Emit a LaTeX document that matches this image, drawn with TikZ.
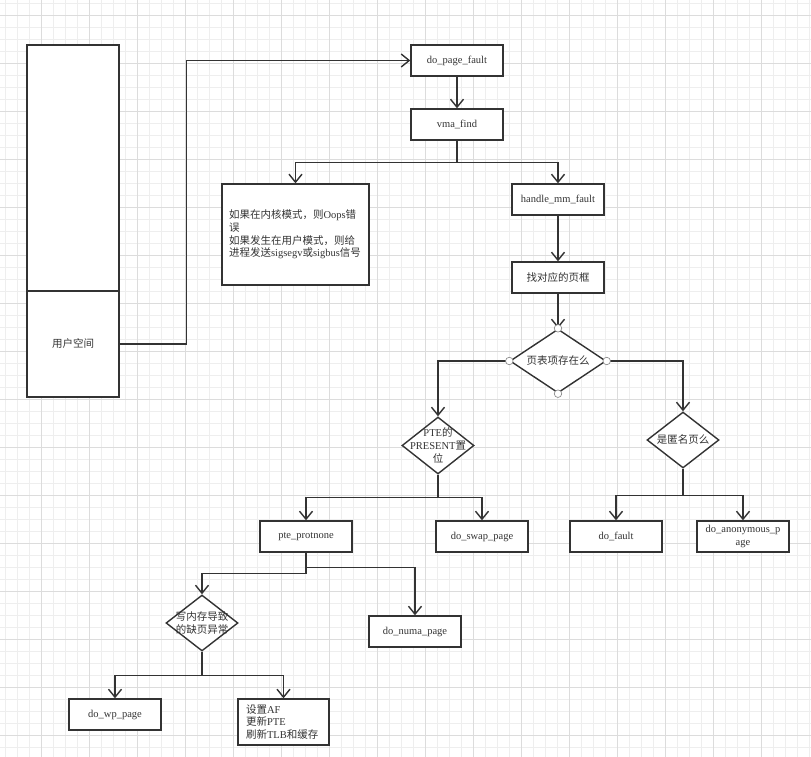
\documentclass[tikz,border=0pt]{standalone}
\usepackage{fontspec}
\setmainfont{Liberation Serif}
\newfontfamily\cjk{Noto Sans CJK SC}
\newcommand\zh[1]{{\cjk #1}}
\usetikzlibrary{shapes.geometric,arrows.meta}
\definecolor{linec}{HTML}{333333}
\definecolor{gridminor}{HTML}{EEEEEE}
\definecolor{gridmajor}{HTML}{DCDCDC}
\begin{document}
\begin{tikzpicture}[x=1pt,y=-1pt,
  txt/.style={text=linec,font=\fontsize{10.5}{12.8}\selectfont},
  box/.style={txt,draw=linec,line width=1.4pt,fill=white,minimum width=92pt,minimum height=31pt,inner sep=0pt,align=center},
  dia/.style={diamond,draw=linec,line width=1.4pt,fill=white,inner sep=0pt},
  lbl/.style={txt,align=center,inner sep=0pt},
  arr/.style={draw=linec,line width=1.4pt,-{Straight Barb[length=8pt,width=13pt,line width=1.4pt]}},
  port/.style={circle,draw=gray,fill=white,minimum size=7.5pt,inner sep=0pt,line width=0.6pt}
]
\useasboundingbox (0,0) rectangle (811,757);
\fill[white] (0,0) rectangle (811,757);
% grid
\foreach \i in {0,...,67} \draw[gridminor,line width=0.6pt] (5+12*\i,0) -- (5+12*\i,757);
\foreach \i in {0,...,63} \draw[gridminor,line width=0.6pt] (0,3+12*\i) -- (811,3+12*\i);
\foreach \i in {0,...,16} \draw[gridmajor,line width=0.7pt] (41+48*\i-48,0) -- (41+48*\i-48,757);
\foreach \i in {0,...,16} \draw[gridmajor,line width=0.7pt] (0,15+48*\i) -- (811,15+48*\i);

% left column
\node[box,minimum width=92pt,minimum height=246pt] (kern) at (73,168) {};
\node[box,minimum width=92pt,minimum height=106pt] (user) at (73,344) {\zh{用户空间}};

% main chain
\node[box] (dpf) at (457,60.5) {do\_page\_fault};
\node[box] (vma) at (457,124.5) {vma\_find};
\node[box,minimum width=147pt,minimum height=101pt,text width=133pt,align=left] (oops) at (295.5,234.5)
  {\zh{如果在内核模式，则}Oops\zh{错}\\\zh{误}\\\zh{如果发生在用户模式，则给}\\\zh{进程发送}sigsegv\zh{或}sigbus\zh{信号}};
\node[box] (hmf) at (558,199.5) {handle\_mm\_fault};
\node[box] (frame) at (558,277.5) {\zh{找对应的页框}};

\node[dia,minimum width=96pt,minimum height=64pt] (d1) at (558,361) {};
\node[lbl] (d1t) at (d1) {\zh{页表项存在么}};

\node[dia,minimum width=72pt,minimum height=57pt] (d2) at (438,445.5) {};
\node[lbl] (d2t) at (d2) {PTE\zh{的}\\PRESENT\zh{置}\\\zh{位}};

\node[dia,minimum width=72pt,minimum height=56pt] (d3) at (683,440) {};
\node[lbl] (d3t) at (d3) {\zh{是匿名页么}};

\node[box] (prot) at (306,536.5) {pte\_protnone};
\node[box] (swap) at (482,536.5) {do\_swap\_page};
\node[box] (fault) at (616,536.5) {do\_fault};
\node[box] (anon) at (743,536.5) {do\_anonymous\_p\\age};

\node[dia,minimum width=72pt,minimum height=56pt] (d4) at (202,623) {};
\node[lbl] (d4t) at (d4) {\zh{写内存导致}\\\zh{的缺页异常}};

\node[box] (numa) at (415,631.5) {do\_numa\_page};
\node[box] (wp) at (115,714.5) {do\_wp\_page};
\node[box,minimum width=91pt,minimum height=46pt,text width=75pt,align=left] (setaf) at (283.5,722)
  {\zh{设置}AF\\\zh{更新}PTE\\\zh{刷新}TLB\zh{和缓存}};

% connectors
\draw[arr] (user.east) -- ++(67,0) |- (dpf.west);
\draw[arr] (dpf) -- (vma);
\draw[arr] (vma.south) -- ++(0,22) -| (oops.north);
\draw[arr] (vma.south) -- ++(0,22) -| (hmf.north);
\draw[arr] (hmf) -- (frame);
\draw[arr] (frame) -- (d1.north);
\draw[arr] (d1.west) -| (d2.north);
\draw[arr] (d1.east) -| (d3.north);
\draw[arr] (d2.south) -- ++(0,23) -| (prot.north);
\draw[arr] (d2.south) -- ++(0,23) -| (swap.north);
\draw[arr] (d3.south) -- ++(0,27) -| (fault.north);
\draw[arr] (d3.south) -- ++(0,27) -| (anon.north);
\draw[arr] (prot.south) -- ++(0,21) -| (d4.north);
\draw[arr] (prot.south) -- ++(0,15) -| (numa.north);
\draw[arr] (d4.south) -- ++(0,24) -| (wp.north);
\draw[arr] (d4.south) -- ++(0,24) -| (setaf.north);

% connection ports on first diamond
\foreach \a in {north,south,east,west} \node[port] at (d1.\a) {};
\end{tikzpicture}
\end{document}
